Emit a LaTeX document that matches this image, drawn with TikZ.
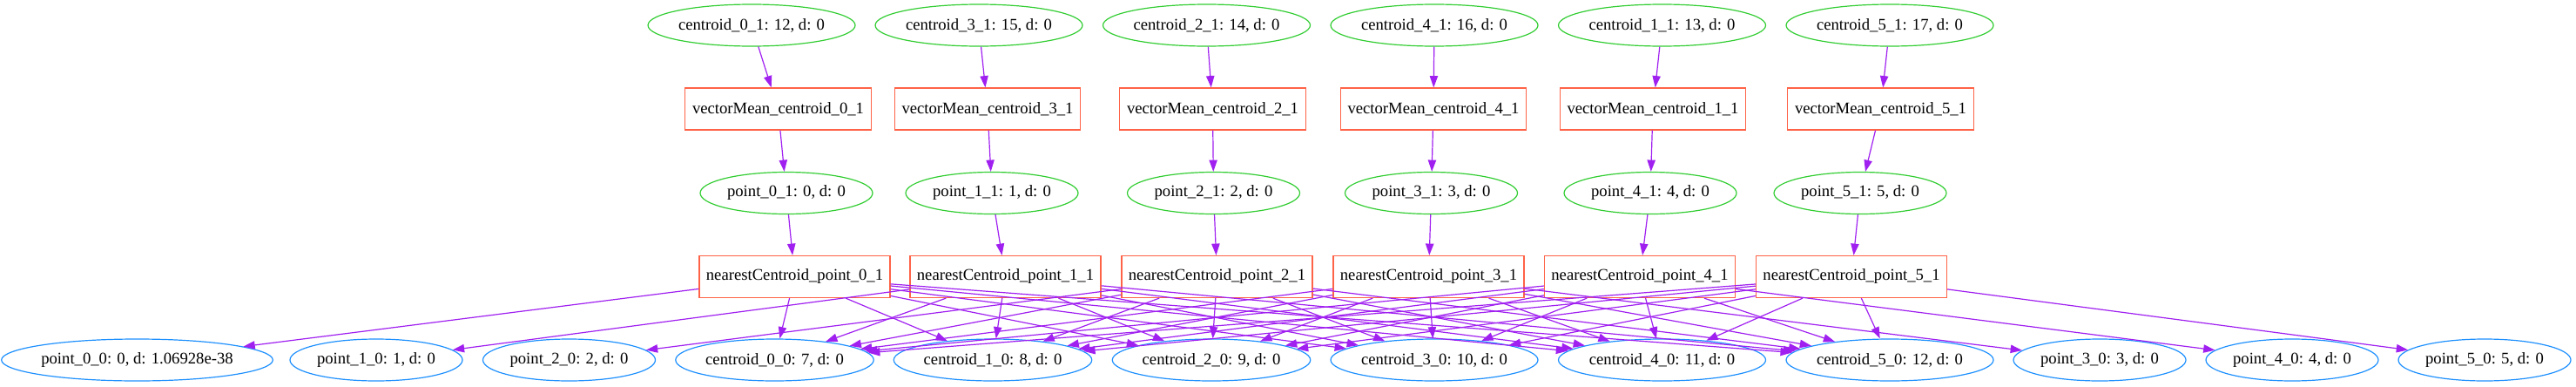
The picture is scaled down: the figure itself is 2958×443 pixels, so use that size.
\documentclass[tikz,border=0pt]{standalone}
\usepackage{fontspec}
\setmainfont{Liberation Serif}
\usetikzlibrary{arrows.meta, shapes.geometric}

\definecolor{gvgreen}{HTML}{32CD32}
\definecolor{gvblue}{HTML}{1E90FF}
\definecolor{gvred}{HTML}{FF6347}
\definecolor{gvpurple}{HTML}{A020F0}

\begin{document}
\begin{tikzpicture}[
  x=0.75pt, y=-0.75pt,
  every node/.style={font=\fontsize{14pt}{16pt}\selectfont, line width=0.9pt,
                     inner sep=0pt, minimum height=36pt},
  gell/.style={ellipse, draw=gvgreen},
  bell/.style={ellipse, draw=gvblue},
  rbox/.style={rectangle, draw=gvred},
  arr/.style={-{Triangle[length=10pt, width=7pt]}, gvpurple, line width=0.9pt}
]
  \useasboundingbox (0,0) rectangle (2958,443);

  % inputs: current centroids
  \node[gell, minimum width=178.5pt] (cen01) at (863,29)    {centroid\_0\_1: 12, d: 0};
  \node[gell, minimum width=178.5pt] (cen31) at (1124,29)   {centroid\_3\_1: 15, d: 0};
  \node[gell, minimum width=178.5pt] (cen21) at (1385.5,29) {centroid\_2\_1: 14, d: 0};
  \node[gell, minimum width=178.5pt] (cen41) at (1647,29)   {centroid\_4\_1: 16, d: 0};
  \node[gell, minimum width=178.5pt] (cen11) at (1908.5,29) {centroid\_1\_1: 13, d: 0};
  \node[gell, minimum width=178.5pt] (cen51) at (2170,29)   {centroid\_5\_1: 17, d: 0};

  % mean steps
  \node[rbox, minimum width=160pt] (vm01) at (893.5,125)  {vectorMean\_centroid\_0\_1};
  \node[rbox, minimum width=160pt] (vm31) at (1134,125)   {vectorMean\_centroid\_3\_1};
  \node[rbox, minimum width=160pt] (vm21) at (1392.5,125) {vectorMean\_centroid\_2\_1};
  \node[rbox, minimum width=160pt] (vm41) at (1646,125)   {vectorMean\_centroid\_4\_1};
  \node[rbox, minimum width=160pt] (vm11) at (1898,125)   {vectorMean\_centroid\_1\_1};
  \node[rbox, minimum width=160pt] (vm51) at (2159.5,125) {vectorMean\_centroid\_5\_1};

  % points
  \node[gell, minimum width=148.5pt] (pt01) at (903,221.5)    {point\_0\_1: 0, d: 0};
  \node[gell, minimum width=148.5pt] (pt11) at (1139,221.5)   {point\_1\_1: 1, d: 0};
  \node[gell, minimum width=148.5pt] (pt21) at (1393.5,221.5) {point\_2\_1: 2, d: 0};
  \node[gell, minimum width=148.5pt] (pt31) at (1643.5,221.5) {point\_3\_1: 3, d: 0};
  \node[gell, minimum width=148.5pt] (pt41) at (1895,221.5)   {point\_4\_1: 4, d: 0};
  \node[gell, minimum width=148.5pt] (pt51) at (2136,221.5)   {point\_5\_1: 5, d: 0};

  % nearest centroid steps
  \node[rbox, minimum width=164.25pt] (nc01) at (912.5,317.5)  {nearestCentroid\_point\_0\_1};
  \node[rbox, minimum width=164.25pt] (nc11) at (1154.5,317.5) {nearestCentroid\_point\_1\_1};
  \node[rbox, minimum width=164.25pt] (nc21) at (1397.5,317.5) {nearestCentroid\_point\_2\_1};
  \node[rbox, minimum width=164.25pt] (nc31) at (1640.5,317.5) {nearestCentroid\_point\_3\_1};
  \node[rbox, minimum width=164.25pt] (nc41) at (1883,317.5)   {nearestCentroid\_point\_4\_1};
  \node[rbox, minimum width=164.25pt] (nc51) at (2126,317.5)   {nearestCentroid\_point\_5\_1};

  % outputs
  \node[bell, minimum width=228.75pt] (pt00)  at (157.5,413)  {point\_0\_0: 0, d: 1.06928e-38};
  \node[bell, minimum width=148.5pt]  (pt10)  at (432,413)    {point\_1\_0: 1, d: 0};
  \node[bell, minimum width=148.5pt]  (pt20)  at (653.5,413)  {point\_2\_0: 2, d: 0};
  \node[bell, minimum width=170.6pt]  (cen00) at (889.5,413)  {centroid\_0\_0: 7, d: 0};
  \node[bell, minimum width=170.6pt]  (cen10) at (1140,413)   {centroid\_1\_0: 8, d: 0};
  \node[bell, minimum width=170.6pt]  (cen20) at (1391,413)   {centroid\_2\_0: 9, d: 0};
  \node[bell, minimum width=178.5pt]  (cen30) at (1647,413)   {centroid\_3\_0: 10, d: 0};
  \node[bell, minimum width=178.5pt]  (cen40) at (1908.5,413) {centroid\_4\_0: 11, d: 0};
  \node[bell, minimum width=178.5pt]  (cen50) at (2170,413)   {centroid\_5\_0: 12, d: 0};
  \node[bell, minimum width=148.5pt]  (pt30)  at (2411,413)   {point\_3\_0: 3, d: 0};
  \node[bell, minimum width=148.5pt]  (pt40)  at (2632,413)   {point\_4\_0: 4, d: 0};
  \node[bell, minimum width=148.5pt]  (pt50)  at (2853,413)   {point\_5\_0: 5, d: 0};

  \draw[arr] (cen01) -- (vm01);
  \draw[arr] (cen31) -- (vm31);
  \draw[arr] (cen21) -- (vm21);
  \draw[arr] (cen41) -- (vm41);
  \draw[arr] (cen11) -- (vm11);
  \draw[arr] (cen51) -- (vm51);

  \draw[arr] (vm01) -- (pt01);
  \draw[arr] (vm31) -- (pt11);
  \draw[arr] (vm21) -- (pt21);
  \draw[arr] (vm41) -- (pt31);
  \draw[arr] (vm11) -- (pt41);
  \draw[arr] (vm51) -- (pt51);

  \foreach \i in {0,...,5} {
    \draw[arr] (pt\i1) -- (nc\i1);
    \draw[arr] (nc\i1) -- (pt\i0);
    \foreach \j in {0,...,5}
      \draw[arr] (nc\i1) -- (cen\j0);
  }
\end{tikzpicture}
\end{document}
